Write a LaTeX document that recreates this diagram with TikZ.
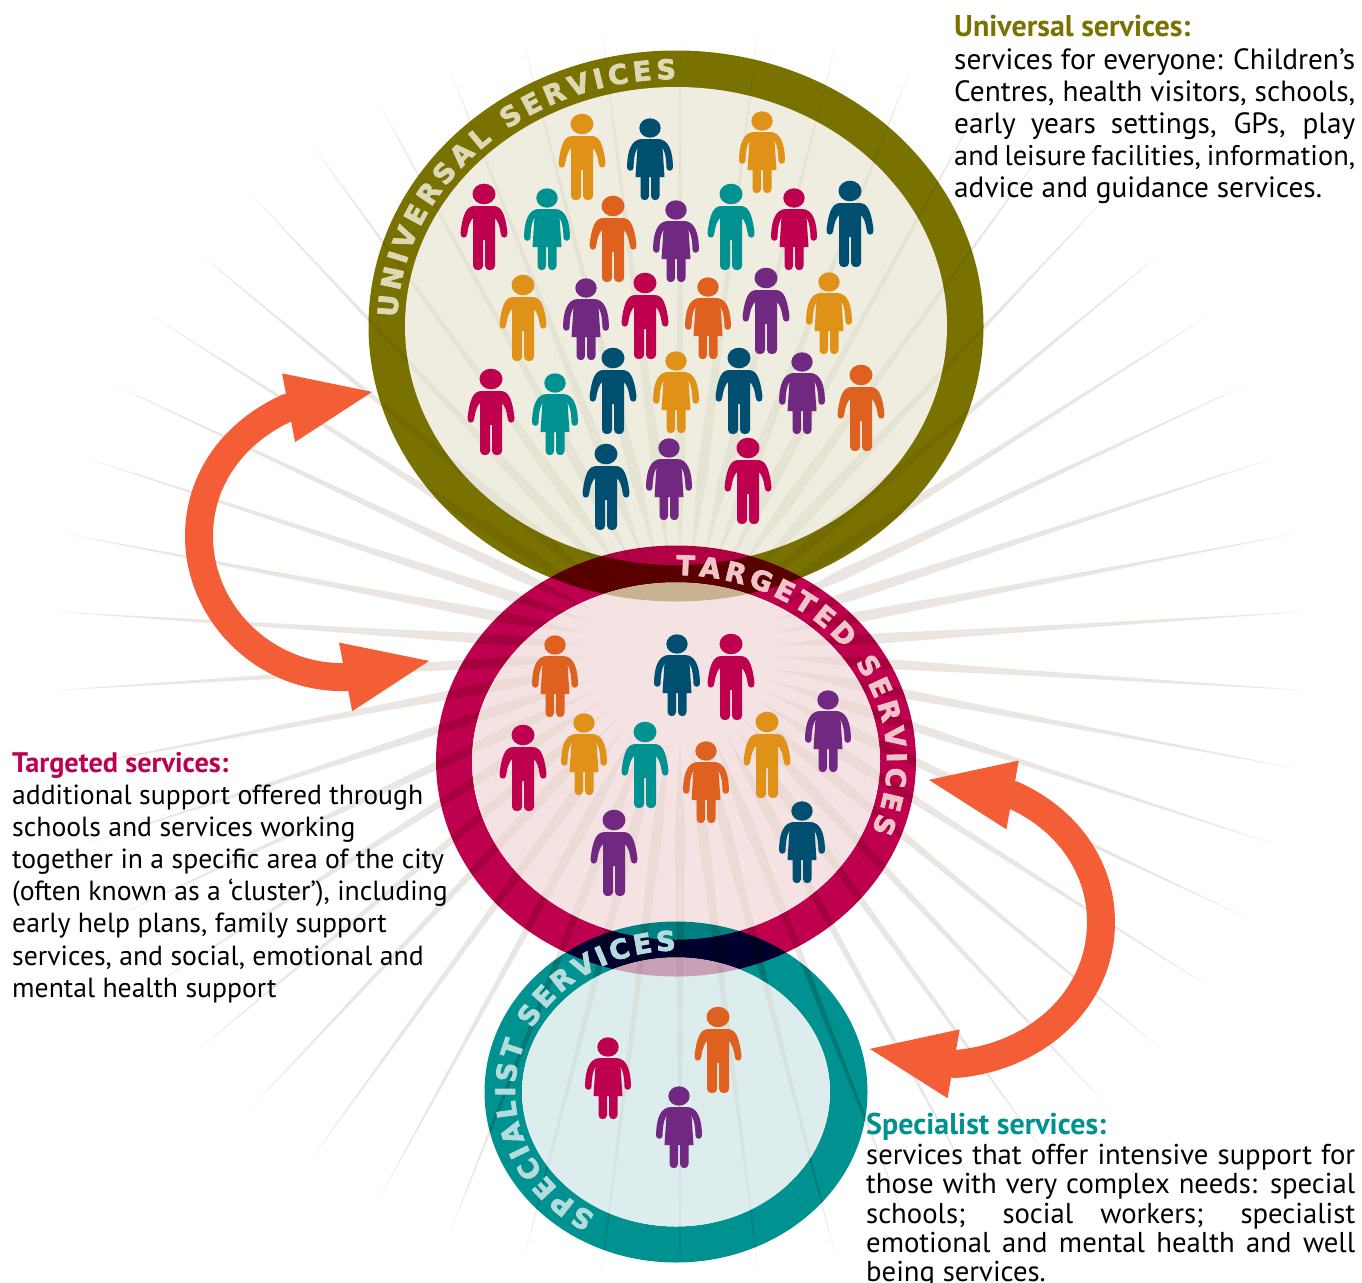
\documentclass[tikz,border=0pt]{standalone}
\usepackage{fontspec}
\setmainfont{PT Sans}
\newfontfamily\ringfont[BoldFeatures={FakeBold=3}]{DejaVu Sans}
\usetikzlibrary{positioning,arrows.meta,decorations.text}
\definecolor{olive}{HTML}{7A7200}
\definecolor{cream}{HTML}{EEEDDF}
\definecolor{rose}{HTML}{BF004F}
\definecolor{blush}{HTML}{F5E3E3}
\definecolor{teal}{HTML}{009191}
\definecolor{pale}{HTML}{DDECEC}
\definecolor{lenstan}{HTML}{C9B292}
\definecolor{lensmauve}{HTML}{C8A0B8}
\definecolor{raygrey}{HTML}{EBE6E1}
\definecolor{rayring}{HTML}{F1EFEB}
\definecolor{raydisc}{HTML}{F6F5F2}
\definecolor{swapred}{HTML}{F45E36}
\definecolor{amber}{HTML}{DF9118}
\definecolor{navy}{HTML}{004E70}
\definecolor{rust}{HTML}{DE6120}
\definecolor{plum}{HTML}{702880}
\definecolor{unilabel}{HTML}{DCD9B4}
\definecolor{tarlabel}{HTML}{F0C4C8}
\definecolor{spelabel}{HTML}{B5DCDC}
\newcommand{\rayfan}[1]{%
  \foreach \ang in {3.6,10.8,...,356.4}
    \fill[#1, shift={(680,651)}, rotate=\ang] (95,0) -- (180,5.5) -- (330,3) -- (628,0) -- (330,-3) -- (180,-5.5) -- cycle;}
\tikzset{
  pics/adult/.style={code={
    \fill[#1] (0,0) ellipse [x radius=11.5pt, y radius=10.3pt];
    \fill[#1] (-9,12) -- (9,12) .. controls (17,12) and (21,18) .. (23.5,39)
      .. controls (24,45) and (17,45) .. (16.8,40) .. controls (16,33) and (14,27) .. (11,24)
      -- (11,72) .. controls (11,77.5) and (1,77.5) .. (1,72) -- (1,46) -- (-1,46) -- (-1,72)
      .. controls (-1,77.5) and (-11,77.5) .. (-11,72) -- (-11,24)
      .. controls (-14,27) and (-16,33) .. (-16.8,40) .. controls (-17,45) and (-24,45) .. (-23.5,39)
      .. controls (-21,18) and (-17,12) .. (-9,12) -- cycle;
  }},
  pics/dress/.style={code={
    \fill[#1] (0,0) ellipse [x radius=10.7pt, y radius=9.7pt];
    \fill[#1] (-8,11) -- (8,11) -- (12.5,19) -- (14.5,49) -- (9.5,49) -- (9.5,68)
      .. controls (9.5,73.5) and (1,73.5) .. (1,68) -- (1,49) -- (-1,49) -- (-1,68)
      .. controls (-1,73.5) and (-9.5,73.5) .. (-9.5,68) -- (-9.5,49) -- (-14.5,49) -- (-12.5,19) -- cycle;
    \draw[#1, line width=6.5pt, line cap=round] (8,14.3) .. controls (15,14.3) and (19.5,22) .. (19.7,39.5);
    \draw[#1, line width=6.5pt, line cap=round] (-8,14.3) .. controls (-15,14.3) and (-19.5,22) .. (-19.7,39.5);
  }},
  bodytext/.style n args={2}{inner sep=0pt, anchor=north west, align=left, font=\fontsize{#1}{#2}\selectfont},
  headtext/.style={inner sep=0pt, anchor=base west, font=\fontsize{#1}{32}\selectfont\bfseries},
  ring/.style={fill=#1, even odd rule, blend mode=multiply},
  swaparrow/.style={draw=swapred, line width=28pt,
    {Triangle[length=90pt,width=62pt,fill=swapred]}-{Triangle[length=90pt,width=62pt,fill=swapred]}},
  ringlabel/.style n args={2}{decorate, decoration={text along path, text color=#1,
    text align=fit to path, text={|\ringfont\fontsize{27}{27}\selectfont\bfseries|#2}}}
}
\begin{document}
\begin{tikzpicture}[x=1pt, y=-1pt]
  \useasboundingbox (0,0) rectangle (1362,1282);

  % RAYS ON WHITE
  % -----------------
  \rayfan{raygrey}

  % RINGS
  % -----------------
  \coordinate (uni_c) at (676,326);
  \coordinate (tar_c) at (676,761);
  \coordinate (spe_c) at (676,1092);

  \fill[olive] (uni_c) ellipse [x radius=307.5pt, y radius=275.5pt];
  \begin{scope}[blend mode=multiply]
    \clip (uni_c) ellipse [x radius=307.5pt, y radius=275.5pt];
    \rayfan{rayring}
  \end{scope}
  \fill[cream] (uni_c) ellipse [x radius=271pt, y radius=239pt];
  \begin{scope}[blend mode=multiply]
    \clip (uni_c) ellipse [x radius=271pt, y radius=239pt];
    \rayfan{raydisc}
  \end{scope}

  \fill[ring=rose] (tar_c) ellipse [x radius=240pt, y radius=215.5pt]
                   (tar_c) ellipse [x radius=204pt, y radius=178.5pt];
  \begin{scope}[blend mode=multiply]
    \clip (tar_c) ellipse [x radius=240pt, y radius=215.5pt];
    \rayfan{rayring}
  \end{scope}
  \fill[blush] (tar_c) ellipse [x radius=204pt, y radius=178.5pt];
  \begin{scope}
    \clip (tar_c) ellipse [x radius=204pt, y radius=178.5pt];
    \fill[lenstan] (uni_c) ellipse [x radius=307.5pt, y radius=275.5pt];
    \begin{scope}[blend mode=multiply]
      \rayfan{raydisc}
    \end{scope}
  \end{scope}

  \fill[ring=teal] (spe_c) ellipse [x radius=191.5pt, y radius=170.5pt]
                   (spe_c) ellipse [x radius=154pt, y radius=134.5pt];
  \begin{scope}[blend mode=multiply]
    \clip (spe_c) ellipse [x radius=191.5pt, y radius=170.5pt];
    \rayfan{rayring}
  \end{scope}
  \fill[pale] (spe_c) ellipse [x radius=154pt, y radius=134.5pt];
  \begin{scope}
    \clip (spe_c) ellipse [x radius=154pt, y radius=134.5pt];
    \fill[lensmauve] (tar_c) ellipse [x radius=240pt, y radius=215.5pt];
    \begin{scope}[blend mode=multiply]
      \rayfan{raydisc}
    \end{scope}
  \end{scope}

  % RING LABELS
  % -----------------
  \path[ringlabel={unilabel}{UNIVERSAL SERVICES}]
    ([shift={(178:279pt and 247pt)}]uni_c) arc [start angle=178, end angle=90, x radius=279pt, y radius=247pt];
  \path[ringlabel={tarlabel}{TARGETED SERVICES}]
    ([shift={(90:211pt and 186pt)}]tar_c) arc [start angle=90, end angle=-22, x radius=211pt, y radius=186pt];
  \path[ringlabel={spelabel}{SPECIALIST SERVICES}]
    ([shift={(240:161pt and 141.5pt)}]spe_c) arc [start angle=240, end angle=90, x radius=161pt, y radius=141.5pt];

  % PEOPLE
  % -----------------
  \foreach \px/\py/\col in {582/124/amber, 613/206/rust, 731/194/teal, 484/194/rose, 850/191/navy,
      523/285/amber, 645/283/rose, 766/278/plum, 613/358/navy, 739/358/navy, 861/375/rust,
      491/379/rose, 606/454/navy, 748/448/rose,
      731/644/rose, 523/735/rose, 645/732/teal, 767/722/amber, 614/820/plum, 718/1017/rust}
    \pic at (\px,\py) {adult=\col};
  \foreach \px/\py/\col in {650/128/navy, 762/121/amber, 547/198/teal, 676/210/plum, 794/198/rose,
      586/288/plum, 708/287/rust, 829/282/amber, 676/361/amber, 802/362/plum, 555/383/teal, 669/448/plum,
      555/645/rust, 677/644/navy, 828/700/plum, 584/723/amber, 706/751/rust, 802/811/navy,
      608/1047/rose, 679/1096/plum}
    \pic at (\px,\py) {dress=\col};

  % ARROWS
  % -----------------
  \coordinate (left_tip_a) at (377,391);
  \coordinate (left_base_a) at (287,408);
  \coordinate (left_tip_b) at (434,660);
  \coordinate (left_base_b) at (345,677);
  \draw[swaparrow] (left_tip_a) -- (left_base_a) .. controls (234,432) and (199,479) .. (199,536)
     .. controls (199,614) and (266,679) .. (left_base_b) -- (left_tip_b);

  \coordinate (right_tip_a) at (924,779);
  \coordinate (right_base_a) at (1013,795);
  \coordinate (right_tip_b) at (865,1048);
  \coordinate (right_base_b) at (955,1064);
  \draw[swaparrow] (right_tip_a) -- (right_base_a) .. controls (1065,818) and (1101,865) .. (1101,922)
     .. controls (1101,1001) and (1034,1058) .. (right_base_b) -- (right_tip_b);

  % TEXTS
  % -----------------
  \node[headtext=30, text=olive] (uni_head) at (954,36) {Universal services:};
  \node[bodytext={29.3}{32pt}, below=12pt of uni_head.south west, anchor=north west] (uni_text) {%
    \makebox[401pt][s]{services for everyone: Children’s}\\
    \makebox[401pt][s]{Centres, health visitors, schools,}\\
    \makebox[401pt][s]{early years settings, GPs, play}\\
    \makebox[401pt][s]{\fontsize{28.4}{32pt}\selectfont and leisure facilities, information,}\\
    advice and guidance services.};

  \node[headtext=28.3, text=rose] (tar_head) at (12,772) {Targeted services:};
  \node[bodytext={27.7}{32.2pt}, below=6pt of tar_head.south west, anchor=north west] (tar_text) {%
    additional support offered through\\
    schools and services working\\
    together in a specific area of the city\\
    (often known as a ‘cluster’), including\\
    early help plans, family support\\
    services, and social, emotional and\\
    mental health support};

  \node[headtext=30, text=teal] (spe_head) at (866,1134) {Specialist services:};
  \node[bodytext={28.7}{29.2pt}, below=4pt of spe_head.south west, anchor=north west] (spe_text) {%
    \makebox[489pt][s]{services that offer intensive support for}\\
    \makebox[489pt][s]{those with very complex needs: special}\\
    \makebox[489pt][s]{schools; social workers; specialist}\\
    \makebox[489pt][s]{emotional and mental health and well}\\
    being services.};
\end{tikzpicture}
\end{document}
